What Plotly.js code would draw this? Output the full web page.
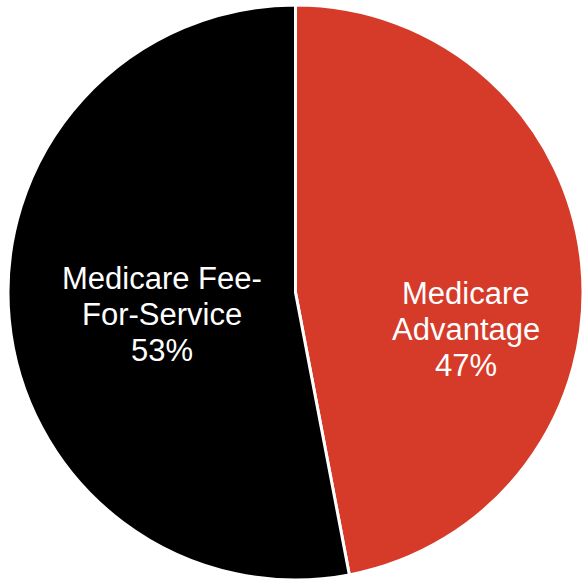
<!DOCTYPE html>
<html>
<head>
<meta charset="utf-8">
<script src="https://cdn.plot.ly/plotly-3.0.1.min.js"></script>
<style>html,body{margin:0;padding:0;background:#fff;}#chart{width:585px;height:580px;}</style>
</head>
<body>
<div id="chart"></div>
<script>
var labels = ["Medicare<br>Advantage", "Medicare Fee-<br>For-Service"];
var values = [47, 53];
var colors = ["#D63A29", "#000000"];

var W = 585, H = 580;
// label block placement (pixel centre of first line, line step) per slice
var labelPos = [{x: 466, y: 293, step: 36}, {x: 162, y: 278, step: 36}];

var total = values.reduce(function (a, b) { return a + b; }, 0);
var annotations = [];
labels.forEach(function (lab, i) {
  var lines = lab.split("<br>");
  lines.push(Math.round(values[i] / total * 100) + "%");
  lines.forEach(function (t, j) {
    annotations.push({
      xref: "paper", yref: "paper",
      x: labelPos[i].x / W,
      y: 1 - (labelPos[i].y + j * labelPos[i].step) / H,
      xanchor: "center", yanchor: "middle",
      text: t, showarrow: false,
      font: {family: "Liberation Sans, Arial, sans-serif", size: 31, color: "#ffffff"}
    });
  });
});

var trace = {
  type: "pie",
  labels: labels,
  values: values,
  sort: false,
  direction: "clockwise",
  rotation: 0,
  marker: {colors: colors, line: {color: "#ffffff", width: 3}},
  textinfo: "none",
  hoverinfo: "none",
  domain: {x: [8 / W, 583 / W], y: [0, 575 / H]}
};

var layout = {
  width: W, height: H,
  margin: {l: 0, r: 0, t: 0, b: 0},
  showlegend: false,
  paper_bgcolor: "#ffffff",
  plot_bgcolor: "#ffffff",
  annotations: annotations
};

Plotly.newPlot("chart", [trace], layout, {displayModeBar: false, staticPlot: true});
</script>
</body>
</html>
